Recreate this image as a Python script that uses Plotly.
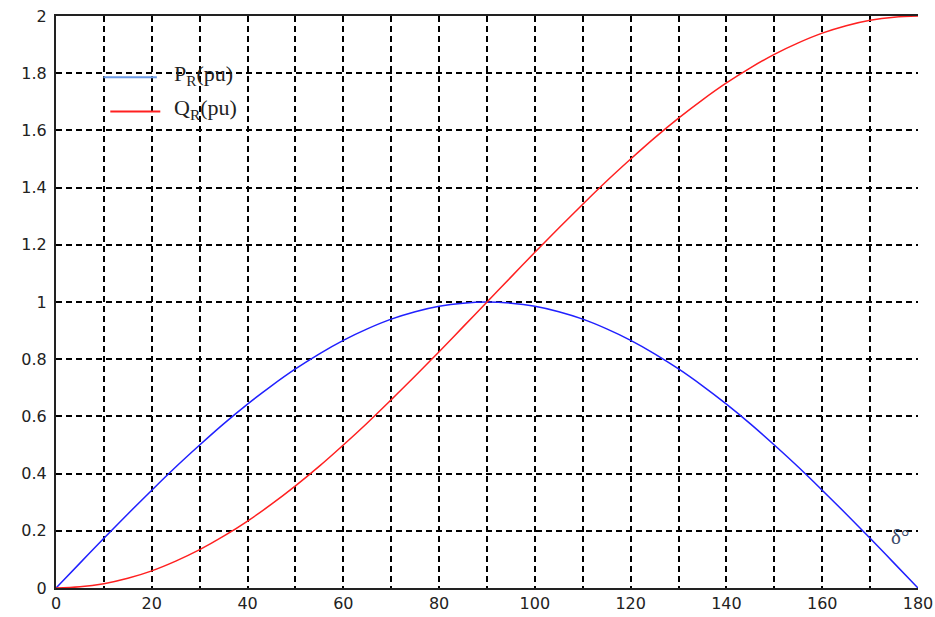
import plotly.graph_objects as go

# Load angle in degrees
delta = list(range(0, 181, 5))

# Receiving-end active power P_R (pu)
p_r = [0.000, 0.087, 0.174, 0.259, 0.342, 0.423, 0.500, 0.574, 0.643, 0.707, 0.766,
       0.819, 0.866, 0.906, 0.940, 0.966, 0.985, 0.996, 1.000, 0.996, 0.985, 0.966,
       0.940, 0.906, 0.866, 0.819, 0.766, 0.707, 0.643, 0.574, 0.500, 0.423, 0.342,
       0.259, 0.174, 0.087, 0.000]

# Receiving-end reactive power Q_R (pu)
q_r = [0.000, 0.004, 0.015, 0.034, 0.060, 0.094, 0.134, 0.181, 0.234, 0.293, 0.357,
       0.426, 0.500, 0.577, 0.658, 0.741, 0.826, 0.913, 1.000, 1.087, 1.174, 1.259,
       1.342, 1.423, 1.500, 1.574, 1.643, 1.707, 1.766, 1.819, 1.866, 1.906, 1.940,
       1.966, 1.985, 1.996, 2.000]

x_ticks = list(range(0, 181, 20))
x_labels = [str(v) for v in x_ticks]
y_ticks = [0, 0.2, 0.4, 0.6, 0.8, 1, 1.2, 1.4, 1.6, 1.8, 2]
y_labels = ["0", "0.2", "0.4", "0.6", "0.8", "1", "1.2", "1.4", "1.6", "1.8", "2"]

fig = go.Figure()
fig.add_trace(go.Scatter(x=delta, y=p_r, mode="lines", line=dict(color="#2020ff", width=1.5,
                         shape="spline"), name="P_R", showlegend=False))
fig.add_trace(go.Scatter(x=delta, y=q_r, mode="lines", line=dict(color="#ff2020", width=1.5,
                         shape="spline"), name="Q_R", showlegend=False))

tick_font = dict(family="DejaVu Sans", size=16, color="#222")
grid = dict(showgrid=True, gridcolor="black", gridwidth=1.5, griddash="6px,4px")

fig.update_xaxes(range=[0, 180], tickvals=x_ticks, ticktext=x_labels, tickfont=tick_font,
                 ticks="", showline=True, linecolor="#222", linewidth=2, mirror=True,
                 zeroline=False, automargin=False,
                 minor=dict(dtick=10, tick0=0, ticks="", showgrid=True, gridcolor="black",
                            gridwidth=1.5, griddash="6px,4px"),
                 **grid)
fig.update_yaxes(range=[0, 2], tickvals=y_ticks, ticktext=y_labels, tickfont=tick_font,
                 ticks="", showline=True, linecolor="#222", linewidth=2, mirror=False,
                 zeroline=False, automargin=False, ticklabelstandoff=4, **grid)

# Legend samples and labels
legend_font = dict(family="Liberation Serif, Times New Roman", size=22, color="#222")
fig.add_shape(type="line", xref="paper", yref="paper", x0=0.055, x1=0.117, y0=0.893, y1=0.893,
              line=dict(color="#6a9ae6", width=2))
fig.add_shape(type="line", xref="paper", yref="paper", x0=0.063, x1=0.121, y0=0.833, y1=0.833,
              line=dict(color="#ff2020", width=2))
fig.add_annotation(xref="paper", yref="paper", x=0.134, y=0.897, xanchor="left", yanchor="middle",
                   text="P<sub>R</sub>(pu)", showarrow=False, font=legend_font)
fig.add_annotation(xref="paper", yref="paper", x=0.134, y=0.838, xanchor="left", yanchor="middle",
                   text="Q<sub>R</sub>(pu)", showarrow=False, font=legend_font)
fig.add_annotation(x=176.3, y=0.18, text="δ°", showarrow=False, xanchor="center", yanchor="middle",
                   font=dict(family="Liberation Serif, Times New Roman", size=21, color="#3a4a6a"))

fig.update_layout(template="none", width=935, height=617, margin=dict(l=56, r=17, t=16, b=29),
                  paper_bgcolor="white", plot_bgcolor="white")

fig.write_html("out.html")
